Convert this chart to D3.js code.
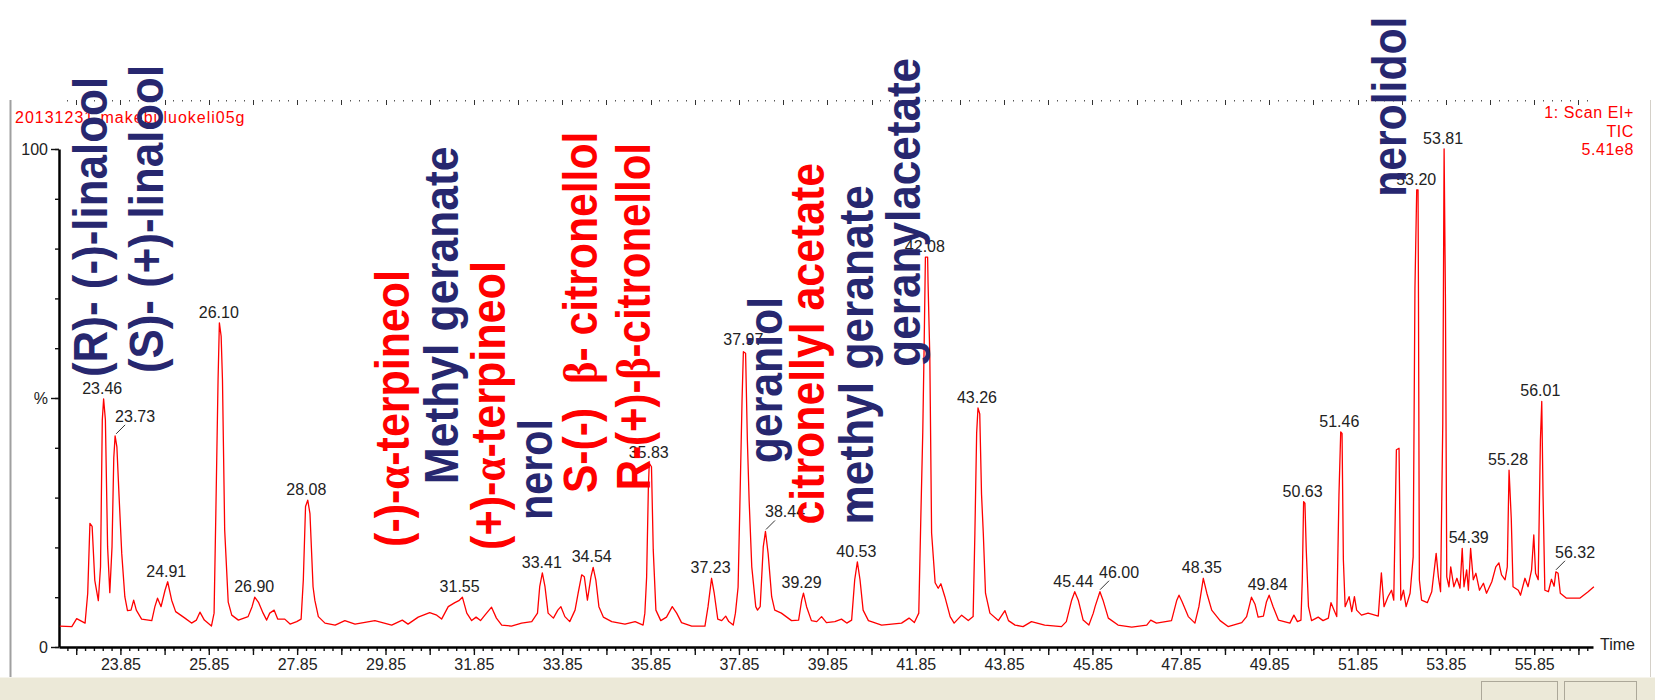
<!DOCTYPE html>
<html>
<head>
<meta charset="utf-8">
<script src="https://cdn.jsdelivr.net/npm/d3@7"></script>
<style>
  body { margin: 0; background: #fff; }
  svg { display: block; }
</style>
</head>
<body>
<svg id="chart" width="1655" height="700"></svg>
<script>
// TIC trace, retention time (min) / relative intensity (%)
const times = [
  22.48, 22.75, 22.86, 23.05, 23.11, 23.16, 23.21, 23.27, 23.35, 23.40, 23.44, 23.47, 23.51, 23.56, 23.61, 23.66, 23.70, 23.73, 23.77, 23.82,
  23.88, 23.95, 24.01, 24.09, 24.15, 24.21, 24.33, 24.56, 24.63, 24.69, 24.77, 24.86, 24.92, 25.01, 25.10, 25.31, 25.46, 25.57, 25.65, 25.75,
  25.91, 25.97, 26.01, 26.06, 26.09, 26.13, 26.16, 26.21, 26.29, 26.37, 26.52, 26.74, 26.83, 26.89, 26.98, 27.08, 27.16, 27.23, 27.33, 27.41,
  27.57, 27.69, 27.84, 27.94, 27.99, 28.04, 28.09, 28.14, 28.21, 28.25, 28.33, 28.48, 28.71, 28.93, 29.16, 29.61, 29.99, 30.23, 30.36, 30.59,
  30.85, 31.01, 31.12, 31.27, 31.42, 31.51, 31.59, 31.69, 31.80, 31.90, 32.00, 32.10, 32.25, 32.36, 32.48, 32.70, 32.93, 33.16, 33.29, 33.34,
  33.40, 33.46, 33.53, 33.65, 33.75, 33.82, 33.91, 34.02, 34.14, 34.21, 34.29, 34.35, 34.42, 34.50, 34.55, 34.61, 34.68, 34.78, 34.97, 35.27,
  35.50, 35.68, 35.72, 35.76, 35.80, 35.82, 35.87, 35.91, 35.97, 36.08, 36.21, 36.34, 36.44, 36.55, 36.78, 37.08, 37.15, 37.23, 37.29, 37.37,
  37.46, 37.55, 37.62, 37.72, 37.77, 37.83, 37.87, 37.92, 37.95, 38.00, 38.04, 38.08, 38.14, 38.23, 38.27, 38.33, 38.40, 38.45, 38.51, 38.59,
  38.66, 38.81, 39.04, 39.20, 39.27, 39.31, 39.38, 39.49, 39.61, 39.72, 39.83, 40.02, 40.17, 40.29, 40.40, 40.47, 40.53, 40.59, 40.66, 40.78,
  41.08, 41.53, 41.70, 41.82, 41.92, 41.97, 42.01, 42.04, 42.07, 42.12, 42.13, 42.17, 42.21, 42.29, 42.36, 42.42, 42.51, 42.63, 42.72, 42.89,
  43.04, 43.15, 43.19, 43.23, 43.26, 43.30, 43.34, 43.38, 43.43, 43.53, 43.72, 43.87, 43.95, 44.10, 44.28, 44.47, 44.77, 45.15, 45.26, 45.38,
  45.45, 45.53, 45.64, 45.77, 45.87, 45.91, 46.02, 46.09, 46.21, 46.43, 46.74, 47.08, 47.17, 47.30, 47.64, 47.76, 47.81, 47.88, 48.02, 48.17,
  48.26, 48.36, 48.44, 48.55, 48.74, 48.92, 49.23, 49.34, 49.45, 49.53, 49.60, 49.72, 49.79, 49.85, 49.94, 50.06, 50.32, 50.41, 50.49, 50.57,
  50.60, 50.63, 50.66, 50.69, 50.74, 50.81, 50.96, 51.07, 51.19, 51.25, 51.32, 51.38, 51.43, 51.47, 51.50, 51.53, 51.57, 51.66, 51.72, 51.78,
  51.83, 51.94, 52.09, 52.32, 52.39, 52.45, 52.54, 52.62, 52.67, 52.73, 52.79, 52.83, 52.89, 52.95, 53.04, 53.11, 53.15, 53.19, 53.22, 53.23,
  53.25, 53.30, 53.43, 53.53, 53.63, 53.68, 53.73, 53.78, 53.81, 53.84, 53.87, 53.92, 53.96, 54.03, 54.10, 54.17, 54.22, 54.26, 54.32, 54.36,
  54.41, 54.47, 54.53, 54.61, 54.70, 54.77, 54.89, 54.98, 55.05, 55.11, 55.19, 55.24, 55.28, 55.33, 55.37, 55.49, 55.54, 55.64, 55.71, 55.79,
  55.84, 55.88, 55.94, 55.99, 56.02, 56.05, 56.09, 56.17, 56.24, 56.30, 56.34, 56.39, 56.44, 56.58, 56.88, 57.07, 57.20
];
const intensity = [
  4.2, 4.1, 5.7, 4.8, 10.8, 24.8, 24.2, 13.4, 9.3, 16.1, 45.6, 49.8, 45.6, 20.1, 10.9, 20.1, 38.0, 42.4, 40.2, 30.2,
  18.8, 10.1, 7.3, 7.4, 9.4, 7.4, 5.6, 5.3, 8.1, 9.8, 8.1, 11.4, 13.1, 9.4, 7.1, 5.8, 4.8, 5.4, 7.0, 5.4,
  4.2, 6.8, 26.9, 53.6, 65.1, 62.4, 53.6, 23.5, 9.0, 6.4, 5.4, 6.1, 8.1, 10.0, 8.9, 6.8, 5.4, 6.8, 7.4, 5.6,
  5.6, 4.6, 5.1, 5.6, 13.5, 28.2, 29.5, 26.8, 12.1, 9.4, 6.1, 4.8, 4.4, 5.3, 4.6, 5.3, 4.4, 5.4, 4.6, 6.0,
  6.9, 6.4, 5.6, 8.1, 8.9, 9.3, 10.0, 6.8, 5.3, 6.0, 5.3, 6.4, 8.0, 5.8, 4.4, 4.2, 4.8, 5.1, 6.8, 12.1,
  14.9, 12.1, 6.8, 5.8, 7.4, 8.1, 6.1, 5.1, 7.4, 10.8, 14.5, 14.1, 9.4, 14.1, 16.0, 13.5, 8.1, 6.0, 5.1, 4.6,
  5.1, 4.4, 6.8, 14.0, 32.2, 36.9, 36.2, 19.5, 7.4, 5.3, 6.0, 8.1, 6.8, 4.9, 4.2, 4.2, 8.1, 13.8, 10.8, 5.6,
  5.3, 6.2, 5.1, 4.4, 6.8, 12.0, 28.2, 49.6, 59.3, 59.0, 41.6, 29.5, 16.1, 8.1, 7.4, 8.1, 20.1, 23.2, 18.8, 10.1,
  7.4, 6.8, 5.3, 5.4, 9.4, 10.8, 8.1, 5.3, 5.1, 6.1, 4.9, 5.1, 5.6, 4.8, 5.4, 13.5, 17.1, 13.5, 7.4, 5.3,
  4.4, 4.8, 5.8, 4.9, 6.8, 27.5, 43.0, 59.8, 78.3, 78.3, 73.1, 58.2, 22.9, 12.9, 11.8, 12.7, 10.1, 6.1, 4.8, 6.4,
  5.3, 6.1, 22.9, 43.0, 48.0, 46.8, 30.7, 22.9, 10.8, 6.8, 5.3, 7.3, 5.3, 4.4, 4.1, 5.1, 4.4, 4.1, 5.1, 9.4,
  11.1, 9.4, 5.4, 4.4, 6.8, 8.1, 11.1, 9.4, 5.8, 4.4, 4.0, 4.4, 5.4, 4.8, 5.3, 9.4, 10.4, 9.1, 6.1, 4.8,
  8.1, 13.8, 10.8, 7.4, 5.3, 4.1, 4.9, 6.1, 10.0, 8.6, 6.0, 6.2, 9.1, 10.4, 8.1, 5.4, 4.8, 6.4, 5.1, 5.4,
  13.5, 29.2, 28.9, 19.5, 8.1, 5.3, 6.0, 5.3, 5.8, 8.9, 7.4, 6.1, 30.5, 43.2, 42.9, 17.5, 8.1, 10.1, 7.1, 10.1,
  7.4, 6.4, 6.8, 6.2, 14.9, 8.1, 10.1, 11.4, 9.4, 39.6, 39.9, 9.4, 11.4, 8.1, 10.8, 18.1, 72.0, 91.8, 91.8, 70.0,
  13.5, 9.4, 8.9, 11.1, 18.8, 14.1, 11.1, 45.0, 100, 70.0, 14.1, 12.1, 16.1, 12.1, 13.8, 11.8, 19.8, 12.1, 15.5, 11.4,
  19.8, 13.5, 14.8, 11.4, 12.8, 10.8, 13.1, 16.1, 16.9, 14.5, 13.5, 16.1, 35.5, 25.8, 12.1, 11.4, 10.4, 13.8, 12.1, 15.5,
  22.5, 14.8, 13.5, 41.6, 49.3, 30.2, 11.4, 11.1, 13.6, 12.2, 15.1, 14.8, 10.8, 9.8, 9.8, 11.1, 12.1
];

// labelled peaks
const peakLabels = ["23.46", "23.73", "24.91", "26.10", "26.90", "28.08", "31.55", "33.41", "34.54", "35.83",
  "37.23", "37.97", "38.44", "39.29", "40.53", "42.08", "43.26", "45.44", "46.00", "48.35",
  "49.84", "50.63", "51.46", "53.20", "53.81", "54.39", "55.28", "56.01", "56.32"];
const peakHeights = [49.8, 42.4, 13.1, 65.1, 10.0, 29.5, 10.0, 14.9, 16.0, 36.9,
  13.8, 59.6, 23.2, 10.8, 17.1, 78.3, 48.0, 11.1, 11.1, 13.8,
  10.4, 29.2, 43.2, 91.8, 100, 19.8, 35.5, 49.3, 15.1];
const leaderPeaks = ["23.73", "38.44", "46.00", "56.32"];

const xTickLabels = ["23.85", "25.85", "27.85", "29.85", "31.85", "33.85", "35.85", "37.85",
  "39.85", "41.85", "43.85", "45.85", "47.85", "49.85", "51.85", "53.85", "55.85"];
const yTickValues = [0, 50, 100];
const yTickLabels = ["0", "%", "100"];

// compound annotations: name, colour set, anchor time (min), start and end level (%)
const compounds = ["(R)- (-)-linalool", "(S)- (+)-linalool", "(-)-α-terpineol", "Methyl geranate",
  "(+)-α-terpineol", "nerol", "S-(-)  β- citronellol", "R-(+)-β-citronellol", "geraniol",
  "citronellyl acetate", "methyl geranate", "geranylacetate", "nerolidol"];
const compoundSet = [1, 1, 2, 1, 2, 1, 2, 2, 1, 2, 1, 1, 1];
const compoundTime = [23.54, 24.81, 30.38, 31.49, 32.55, 33.62, 34.64, 35.83, 38.83, 39.78, 40.88, 41.95, 52.95];
const compoundLevel = [54.2, 55.0, 20.1, 32.7, 19.5, 25.5, 30.9, 31.5, 36.9, 24.6, 24.6, 56.3, 90.4];
const compoundTop = [114.5, 116.9, 75.7, 100.5, 77.5, 45.8, 103.5, 101.2, 70.3, 97.2, 92.8, 118.3, 126.6];

const headerLeft = "20131231-makebuluokeli05g";
const headerRight = ["1: Scan EI+", "TIC", "5.41e8"];

const svg = d3.select("#chart");
const width = 1655;
const height = 700;

const x = d3.scaleLinear().domain([22.46, 57.18]).range([59, 1593]);
const y = d3.scaleLinear().domain([0, 100]).range([647, 149]);

const colour = d3.scaleOrdinal().domain([1, 2]).range(["#27276f", "#ff0000"]);
const labelFont = "'Liberation Sans', Arial, sans-serif";

svg.append("rect").attr("width", width).attr("height", height).attr("fill", "#fff");

// window frame + status bar
svg.append("rect").attr("x", 0).attr("y", 677).attr("width", width).attr("height", 23).attr("fill", "#ece9d8");
svg.append("line").attr("x1", 0).attr("x2", width).attr("y1", 677.5).attr("y2", 677.5).attr("stroke", "#f6f4ec");
[[1481, 76], [1564, 72]].forEach(([px, pw]) => {
  svg.append("rect").attr("x", px + 0.5).attr("y", 681.5).attr("width", pw).attr("height", 20)
    .attr("fill", "none").attr("stroke", "#aca899");
});
svg.append("line").attr("x1", 10.5).attr("x2", 10.5).attr("y1", 100).attr("y2", 677)
  .attr("stroke", "#a0a0a0").attr("stroke-width", 2);
svg.append("line").attr("x1", 1650.5).attr("x2", 1650.5).attr("y1", 100).attr("y2", 677)
  .attr("stroke", "#d4d0c8").attr("stroke-width", 1);

// top ruler (dots + minute ticks)
const minuteTicks = d3.range(0, 35).map(i => 22.85 + i);
const minorTicks = d3.range(0, 173).map(i => 22.65 + i * 0.2).filter(d => d < 57.1);
svg.append("g").selectAll("rect")
  .data(minorTicks)
  .join("rect")
  .attr("x", d => Math.round(x(d)))
  .attr("y", 100)
  .attr("width", 1)
  .attr("height", 1.5)
  .attr("fill", "#555");
svg.append("g").selectAll("line")
  .data(minuteTicks)
  .join("line")
  .attr("x1", d => Math.round(x(d)) + 0.5)
  .attr("x2", d => Math.round(x(d)) + 0.5)
  .attr("y1", 100)
  .attr("y2", 105)
  .attr("stroke", "#333");

// header texts
svg.append("text")
  .attr("x", 15).attr("y", 123)
  .attr("fill", "#ff0000")
  .attr("font-family", labelFont).attr("font-size", 16)
  .attr("letter-spacing", 1)
  .text(headerLeft);
svg.append("g").selectAll("text")
  .data(headerRight)
  .join("text")
  .attr("x", 1634)
  .attr("y", (d, i) => 118 + i * 18.5)
  .attr("text-anchor", "end")
  .attr("fill", "#ff0000")
  .attr("font-family", labelFont).attr("font-size", 16)
  .attr("letter-spacing", 0.6)
  .text(d => d);

// x axis
const xAxisG = svg.append("g").attr("transform", `translate(0, ${y(0)})`);
xAxisG.call(d3.axisBottom(x).tickValues(minorTicks).tickSize(4).tickSizeOuter(0).tickFormat(""))
  .call(g => g.select(".domain").remove());
xAxisG.append("g").call(d3.axisBottom(x)
    .tickValues(minuteTicks)
    .tickSize(8)
    .tickSizeOuter(0)
    .tickPadding(4)
    .tickFormat(d => xTickLabels.includes(d.toFixed(2)) ? d.toFixed(2) : ""))
  .call(g => g.select(".domain").attr("stroke-width", 2.5))
  .call(g => g.selectAll("text").attr("font-size", 16).attr("font-family", labelFont).attr("fill", "#222"));
xAxisG.selectAll(".tick line").attr("stroke", "#111").attr("stroke-width", 1.4);

svg.append("text")
  .attr("x", 1600).attr("y", 650)
  .attr("font-family", labelFont).attr("font-size", 16).attr("fill", "#222")
  .text("Time");

// y axis
const yAxisG = svg.append("g").attr("transform", `translate(${x.range()[0]}, 0)`);
yAxisG.call(d3.axisLeft(y).tickValues(d3.range(0, 101, 10)).tickSize(4).tickSizeOuter(0).tickFormat(""))
  .call(g => g.select(".domain").attr("stroke-width", 2.5));
yAxisG.append("g").call(d3.axisLeft(y)
    .tickValues(yTickValues)
    .tickSize(8)
    .tickSizeOuter(0)
    .tickPadding(3)
    .tickFormat((d, i) => yTickLabels[i]))
  .call(g => g.select(".domain").remove())
  .call(g => g.selectAll("text").attr("font-size", 16).attr("font-family", labelFont).attr("fill", "#222"));
yAxisG.selectAll(".tick line").attr("stroke", "#111").attr("stroke-width", 1.4);

// trace
const trace = times.map((t, i) => [t, intensity[i]]);
svg.append("path")
  .datum(trace)
  .attr("fill", "none")
  .attr("stroke", "#ff0000")
  .attr("stroke-width", 1.3)
  .attr("stroke-linejoin", "round")
  .attr("d", d3.line().x(d => x(d[0])).y(d => y(d[1])));

// peak labels
const peaks = svg.append("g").selectAll("g")
  .data(peakLabels.map((p, i) => ({ label: p, t: +p, v: peakHeights[i], leader: leaderPeaks.includes(p) })))
  .join("g")
  .attr("transform", d => `translate(${x(d.t)}, ${y(d.v)})`);

peaks.filter(d => d.leader).append("line")
  .attr("x1", 1).attr("y1", -2)
  .attr("x2", 10).attr("y2", -11)
  .attr("stroke", "#333");

peaks.append("text")
  .attr("x", d => d.leader ? 20 : -1)
  .attr("y", d => d.leader ? -14 : -5)
  .attr("text-anchor", "middle")
  .attr("font-family", labelFont)
  .attr("font-size", 16)
  .attr("fill", "#222")
  .text(d => d.label);

// compound names, rotated, each squeezed to run from its start to its end level
const names = svg.append("g").selectAll("text")
  .data(compounds.map((c, i) => ({
    name: c, set: compoundSet[i], t: compoundTime[i], v: compoundLevel[i], top: compoundTop[i]
  })))
  .join("text")
  .attr("fill", d => colour(d.set))
  .attr("font-family", labelFont)
  .attr("font-weight", "bold")
  .attr("font-size", 48)
  .style("white-space", "pre");

names.each(function (d) {
  const el = d3.select(this);
  d.name.split(/([αβ])/).filter(s => s.length).forEach(part => {
    const ts = el.append("tspan").text(part);
    if (part === "α" || part === "β") ts.attr("font-family", "'Liberation Serif', 'DejaVu Serif', serif");
  });
  const k = (y(d.v) - y(d.top)) / this.getComputedTextLength();
  el.attr("transform", `translate(${x(d.t)}, ${y(d.v)}) rotate(-90) scale(${k}, 1)`);
});
</script>
</body>
</html>
